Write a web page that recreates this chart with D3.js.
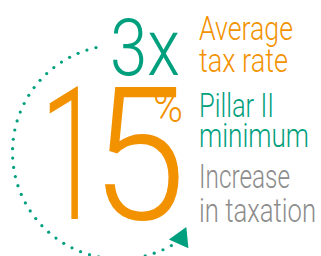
<!DOCTYPE html>
<html><head><meta charset="utf-8">
<script src="https://cdn.jsdelivr.net/npm/d3@7"></script>
<style>html,body{margin:0;padding:0;background:#fff;overflow:hidden}</style>
</head><body>
<svg id="c" width="321" height="256"></svg>
<script>
// ---- data ----
const bigFigures = ["3x", "15", "%"];
const labelLines = ["Average", "tax rate", "Pillar II", "minimum", "Increase", "in taxation"];
const labelGroups = [0, 0, 1, 1, 2, 2];            // which label each line belongs to
const arcDegrees = [-12.7, -209];                 // dotted arc start / end (clockwise from 12 o'clock)
const dotCount = [40];
const arrowDegree = [-215.6];

const ORANGE = "#f39200", TEAL = "#00a07e", GRAY = "#8c8c8c";
const groupColor = [ORANGE, TEAL, GRAY];
const FONT = "Roboto, 'Noto Sans', sans-serif";

const svg = d3.select("#c");
const cx = 119.5, cy = 152, R = 107;

// dotted arc
const angle = d3.scaleLinear().domain([0, dotCount[0] - 1]).range(arcDegrees.map(d => d * Math.PI / 180));
svg.append("g").selectAll("circle").data(d3.range(dotCount[0])).join("circle")
  .attr("cx", i => cx + R * Math.sin(angle(i)))
  .attr("cy", i => cy - R * Math.cos(angle(i)))
  .attr("r", 1.6).attr("fill", TEAL);

// arrow head
const aa = arrowDegree[0] * Math.PI / 180, ar = 106;
const ax = cx + ar * Math.sin(aa), ay = cy - ar * Math.cos(aa);
const rot = Math.atan2(-Math.cos(aa), Math.sin(aa)) * 180 / Math.PI;
svg.append("path")
  .attr("d", d3.symbol(d3.symbolTriangle, 200)())
  .attr("transform", `translate(${ax},${ay}) rotate(${rot + 90})`)
  .attr("fill", TEAL);

// "3x"
svg.append("text")
  .attr("x", 110).attr("y", 75)
  .attr("font-family", FONT).attr("font-weight", 300).attr("font-size", 79)
  .attr("textLength", 70).attr("lengthAdjust", "spacingAndGlyphs")
  .attr("fill", TEAL).text(bigFigures[0]);

// "15" – one text, each digit fitted separately
const digits = bigFigures[1].split("");
const digitFit = [{x: 40, len: 62}, {x: 91, len: 95}];
svg.append("text")
  .attr("y", 219)
  .attr("font-family", FONT).attr("font-weight", 300).attr("font-size", 185)
  .attr("fill", ORANGE)
  .selectAll("tspan").data(digits).join("tspan")
  .attr("x", (d, i) => digitFit[i].x)
  .attr("textLength", (d, i) => digitFit[i].len).attr("lengthAdjust", "spacingAndGlyphs")
  .text(d => d);

// "%"
svg.append("text")
  .attr("x", 153).attr("y", 122)
  .attr("font-family", FONT).attr("font-weight", 300).attr("font-size", 44)
  .attr("textLength", 30).attr("lengthAdjust", "spacingAndGlyphs")
  .attr("fill", ORANGE).text(bigFigures[2]);

// labels
const lab = [
  {y: 40, len: 94}, {y: 72, len: 89}, {y: 117, len: 75},
  {y: 147, len: 110}, {y: 188, len: 91}, {y: 222, len: 117}
];
svg.append("g").selectAll("text").data(labelLines).join("text")
  .attr("x", 199).attr("y", (d, i) => lab[i].y)
  .attr("font-family", FONT)
  .attr("font-weight", 300)
  .attr("font-size", 33)
  .attr("textLength", (d, i) => lab[i].len).attr("lengthAdjust", "spacingAndGlyphs")
  .attr("fill", (d, i) => groupColor[labelGroups[i]]).text(d => d);
</script>
</body></html>
